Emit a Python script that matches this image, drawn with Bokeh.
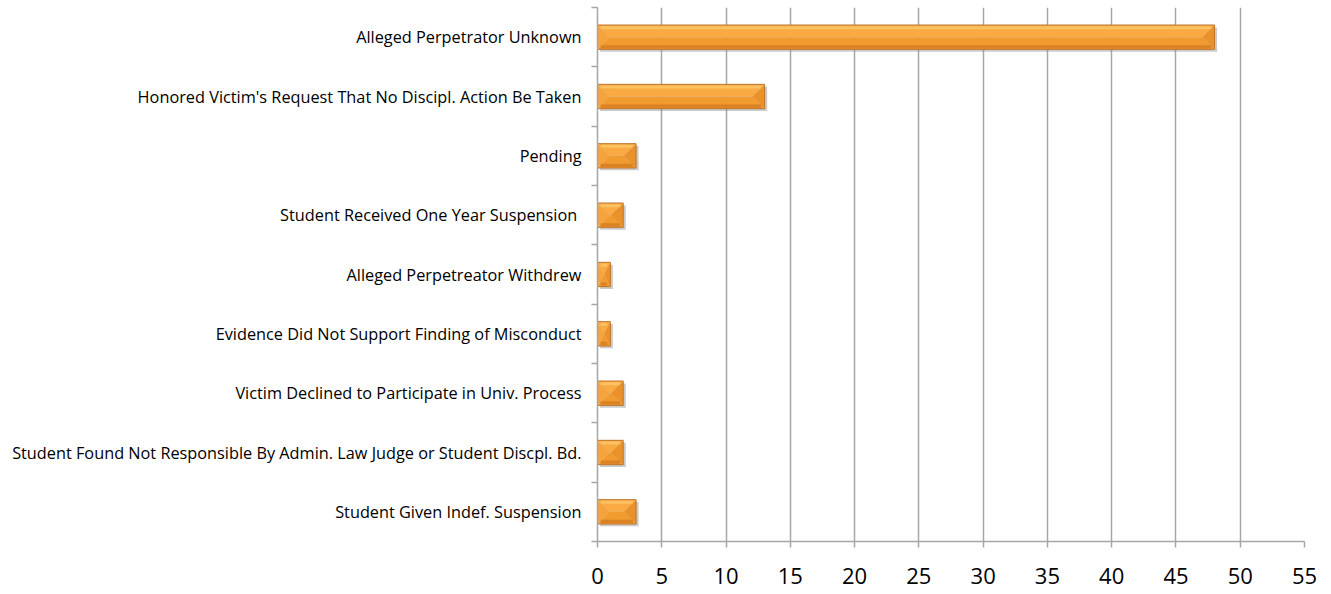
from bokeh.plotting import figure
from bokeh.models import FixedTicker, ColumnDataSource
from bokeh.embed import file_html
from bokeh.resources import INLINE

categories = [
    "Alleged Perpetrator Unknown",
    "Honored Victim's Request That No Discipl. Action Be Taken",
    "Pending",
    "Student Received One Year Suspension ",
    "Alleged Perpetreator Withdrew",
    "Evidence Did Not Support Finding of Misconduct",
    "Victim Declined to Participate in Univ. Process",
    "Student Found Not Responsible By Admin. Law Judge or Student Discpl. Bd.",
    "Student Given Indef. Suspension",
]
values = [48, 13, 3, 2, 1, 1, 2, 2, 3]
x_ticks = [0, 5, 10, 15, 20, 25, 30, 35, 40, 45, 50, 55]

n = len(categories)
centers = [n - i - 0.5 for i in range(n)]
boundaries = list(range(n + 1))

W, H = 1323, 592
LEFT, RIGHT, TOP, BOTTOM = 597, 19, 7, 51

p = figure(width=W, height=H, x_range=(0, 55), y_range=(0, n),
           output_backend="svg", toolbar_location=None,
           min_border_left=LEFT, min_border_right=RIGHT,
           min_border_top=TOP, min_border_bottom=BOTTOM)
p.outline_line_color = None
p.background_fill_color = "white"

# grid
p.ygrid.grid_line_color = None
p.xgrid.grid_line_color = "#A6A6A6"
p.xgrid.grid_line_width = 1.5
p.xgrid.ticker = FixedTicker(ticks=x_ticks)

# x axis
p.xaxis.ticker = FixedTicker(ticks=x_ticks)
p.xaxis.axis_line_color = "#A6A6A6"
p.xaxis.axis_line_width = 1.5
p.xaxis.major_tick_line_color = "#A6A6A6"
p.xaxis.major_tick_line_width = 1.5
p.xaxis.major_tick_out = 6
p.xaxis.major_tick_in = 0
p.xaxis.minor_tick_line_color = None
p.xaxis.major_label_text_font = "Open Sans"
p.xaxis.major_label_text_font_size = "22px"
p.xaxis.major_label_text_color = "black"
p.xaxis.major_label_standoff = 20

# y axis
p.yaxis.ticker = FixedTicker(ticks=centers, minor_ticks=boundaries)
p.yaxis.major_label_overrides = {c: lab for c, lab in zip(centers, categories)}
p.yaxis.axis_line_color = "#A6A6A6"
p.yaxis.axis_line_width = 1.5
p.yaxis.major_tick_line_color = None
p.yaxis.major_tick_out = 0
p.yaxis.major_tick_in = 0
p.yaxis.minor_tick_line_color = "#A6A6A6"
p.yaxis.minor_tick_line_width = 1.5
p.yaxis.minor_tick_out = 6
p.yaxis.minor_tick_in = 0
p.yaxis.major_label_text_font = "Open Sans"
p.yaxis.major_label_text_font_size = "16.3px"
p.yaxis.major_label_text_color = "black"
p.yaxis.major_label_standoff = 10

# bevelled bars built from the data
half_h = 0.205          # half bar height in y units
bevel_x = 0.95          # bevel width in x units
sh_dx, sh_dy = 0.2, 0.04

shadow = dict(left=[], right=[], top=[], bottom=[])
tops_x, tops_y, bots_x, bots_y = [], [], [], []
lefts_x, lefts_y, rights_x, rights_y = [], [], [], []
hl_top, hl_bot, dk_top, dk_bot, strip_l, strip_r = [], [], [], [], [], []
for v, yc in zip(values, centers):
    y0, y1 = yc - half_h, yc + half_h
    d = min(bevel_x, v / 2.0)
    shadow["left"].append(0 + sh_dx)
    shadow["right"].append(v + sh_dx)
    shadow["top"].append(y1 - sh_dy)
    shadow["bottom"].append(y0 - sh_dy)
    tops_x.append([0, v, v - d, d])
    tops_y.append([y1, y1, yc, yc])
    bots_x.append([0, v, v - d, d])
    bots_y.append([y0, y0, yc, yc])
    lefts_x.append([0, d, 0])
    lefts_y.append([y1, yc, y0])
    rights_x.append([v, v - d, v])
    rights_y.append([y1, yc, y0])
    s = min(0.25, v / 4.0)
    strip_l.append(s)
    strip_r.append(v - s)
    hl_top.append(y1 - 0.02)
    hl_bot.append(y1 - 0.07)
    dk_top.append(y0 + 0.07)
    dk_bot.append(y0 + 0.015)

p.quad(source=ColumnDataSource(shadow), left="left", right="right",
       top="top", bottom="bottom", fill_color="#8C8C8C", fill_alpha=0.45,
       line_color=None)
p.patches(xs=bots_x, ys=bots_y, fill_color="#F19A2E", line_color=None)
p.patches(xs=tops_x, ys=tops_y, fill_color="#F9AA42", line_color=None)
p.patches(xs=lefts_x, ys=lefts_y, fill_color="#F6A33C", line_color=None)
p.patches(xs=rights_x, ys=rights_y, fill_color="#EA912A", line_color=None)
p.quad(left=strip_l, right=strip_r, top=hl_top, bottom=hl_bot,
       fill_color="#FDC86C", fill_alpha=0.75, line_color=None)
p.quad(left=strip_l, right=strip_r, top=dk_top, bottom=dk_bot,
       fill_color="#D27A22", fill_alpha=0.75, line_color=None)
p.quad(left=[0] * n, right=values,
       top=[c + half_h for c in centers], bottom=[c - half_h for c in centers],
       fill_color=None, line_color="#BF7428", line_width=1)

open("out.html", "w").write(file_html(p, INLINE))
